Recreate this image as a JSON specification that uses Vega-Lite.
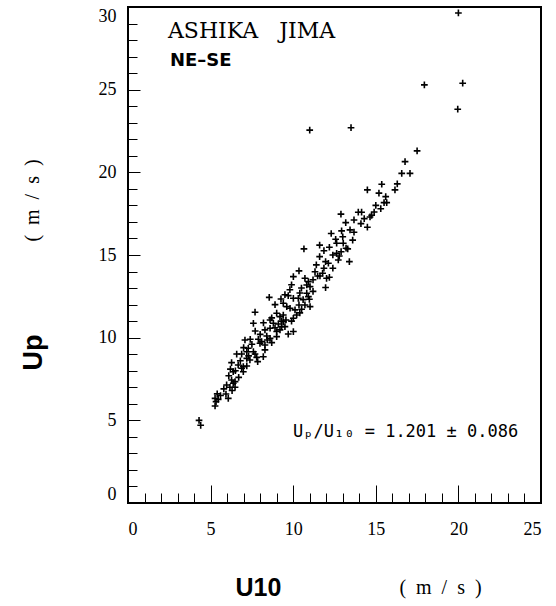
{
  "$schema": "https://vega.github.io/schema/vega-lite/v6.json",
  "width": 413,
  "height": 496,
  "autosize": {"type": "none"},
  "padding": {"left": 128, "top": 7, "right": 15, "bottom": 103},
  "background": "white",
  "config": {
    "view": {"stroke": "black", "strokeWidth": 2},
    "axis": {"grid": false, "domain": false, "tickColor": "black", "tickWidth": 1, "labelColor": "black", "titleColor": "black"}
  },
  "resolve": {"axis": {"x": "independent", "y": "independent"}},
  "layer": [
    {
      "data": {"values": [
        {"u10": 17.5, "up": 21.3}, {"u10": 16.77, "up": 20.65}, {"u10": 16.57, "up": 19.94}, {"u10": 17.07, "up": 19.94},
        {"u10": 15.36, "up": 19.28}, {"u10": 14.49, "up": 18.94}, {"u10": 15.19, "up": 18.74}, {"u10": 15.6, "up": 18.53},
        {"u10": 16.16, "up": 18.94}, {"u10": 15.5, "up": 18.17}, {"u10": 15.66, "up": 18.17}, {"u10": 12.89, "up": 17.47},
        {"u10": 13.94, "up": 17.59}, {"u10": 14.14, "up": 17.59}, {"u10": 14.75, "up": 17.4}, {"u10": 14.65, "up": 17.3},
        {"u10": 13.18, "up": 16.96}, {"u10": 13.68, "up": 17.12}, {"u10": 14.49, "up": 16.68}, {"u10": 12.93, "up": 16.46},
        {"u10": 13.44, "up": 16.52}, {"u10": 13.68, "up": 16.38}, {"u10": 10.65, "up": 15.37}, {"u10": 12.57, "up": 15.95},
        {"u10": 12.63, "up": 15.71}, {"u10": 13.03, "up": 15.71}, {"u10": 13.2, "up": 15.41}, {"u10": 13.3, "up": 15.37},
        {"u10": 11.86, "up": 15.26}, {"u10": 12.19, "up": 15.47}, {"u10": 12.63, "up": 15.1}, {"u10": 12.79, "up": 14.94},
        {"u10": 12.73, "up": 14.7}, {"u10": 11.96, "up": 14.6}, {"u10": 12.13, "up": 14.5}, {"u10": 11.86, "up": 14.2},
        {"u10": 11.78, "up": 13.9}, {"u10": 10.35, "up": 14.04}, {"u10": 10.01, "up": 13.69}, {"u10": 10.71, "up": 13.59},
        {"u10": 10.92, "up": 13.39}, {"u10": 10.82, "up": 13.19}, {"u10": 11.02, "up": 13.09}, {"u10": 11.32, "up": 13.99},
        {"u10": 11.48, "up": 13.73}, {"u10": 11.62, "up": 13.73}, {"u10": 12.02, "up": 13.59}, {"u10": 12.19, "up": 13.65},
        {"u10": 11.96, "up": 13.03}, {"u10": 10.92, "up": 12.48}, {"u10": 10.82, "up": 12.69}, {"u10": 10.98, "up": 12.32},
        {"u10": 8.55, "up": 12.44}, {"u10": 9.7, "up": 12.54}, {"u10": 10.01, "up": 12.38}, {"u10": 10.31, "up": 12.38},
        {"u10": 9.26, "up": 12.34}, {"u10": 9.4, "up": 12.08}, {"u10": 9.61, "up": 11.88}, {"u10": 9.81, "up": 11.78},
        {"u10": 10.35, "up": 11.98}, {"u10": 10.71, "up": 11.98}, {"u10": 11.02, "up": 11.88}, {"u10": 10.11, "up": 11.68},
        {"u10": 10.51, "up": 11.72}, {"u10": 7.69, "up": 11.54}, {"u10": 9.0, "up": 11.48}, {"u10": 9.2, "up": 11.27},
        {"u10": 9.4, "up": 11.37}, {"u10": 7.59, "up": 10.87}, {"u10": 8.6, "up": 11.07}, {"u10": 8.8, "up": 10.87},
        {"u10": 9.1, "up": 10.83}, {"u10": 9.4, "up": 10.97}, {"u10": 9.56, "up": 11.07}, {"u10": 10.01, "up": 11.17},
        {"u10": 10.21, "up": 11.37}, {"u10": 8.29, "up": 10.47}, {"u10": 8.6, "up": 10.57}, {"u10": 9.0, "up": 10.37},
        {"u10": 9.2, "up": 10.47}, {"u10": 9.3, "up": 10.67}, {"u10": 9.5, "up": 10.67}, {"u10": 9.7, "up": 10.22},
        {"u10": 10.01, "up": 10.37}, {"u10": 7.08, "up": 9.86}, {"u10": 7.89, "up": 9.9}, {"u10": 8.09, "up": 9.76},
        {"u10": 8.43, "up": 9.86}, {"u10": 8.6, "up": 9.96}, {"u10": 9.0, "up": 10.06}, {"u10": 7.99, "up": 9.66},
        {"u10": 8.29, "up": 9.56}, {"u10": 8.7, "up": 9.7}, {"u10": 7.28, "up": 9.36}, {"u10": 7.59, "up": 9.15},
        {"u10": 7.19, "up": 9.15}, {"u10": 8.29, "up": 9.26}, {"u10": 6.58, "up": 9.01}, {"u10": 6.88, "up": 9.01},
        {"u10": 7.19, "up": 8.75}, {"u10": 7.38, "up": 8.65}, {"u10": 7.69, "up": 9.01}, {"u10": 7.79, "up": 8.81},
        {"u10": 7.85, "up": 8.55}, {"u10": 8.19, "up": 8.85}, {"u10": 6.27, "up": 8.49}, {"u10": 6.67, "up": 8.35},
        {"u10": 6.88, "up": 8.15}, {"u10": 6.98, "up": 8.25}, {"u10": 7.19, "up": 8.29}, {"u10": 6.37, "up": 7.94},
        {"u10": 6.98, "up": 7.94}, {"u10": 6.27, "up": 7.44}, {"u10": 6.37, "up": 7.24}, {"u10": 6.48, "up": 7.34},
        {"u10": 5.97, "up": 7.14}, {"u10": 6.17, "up": 7.0}, {"u10": 6.48, "up": 7.0}, {"u10": 5.93, "up": 6.59},
        {"u10": 6.07, "up": 6.33}, {"u10": 5.27, "up": 6.33}, {"u10": 5.46, "up": 6.27}, {"u10": 5.33, "up": 6.13},
        {"u10": 5.27, "up": 5.87},
        {"u10": 8.7, "up": 11.2}, {"u10": 8.9, "up": 10.6}, {"u10": 9.3, "up": 11.0}, {"u10": 9.9, "up": 11.0},
        {"u10": 10.4, "up": 11.5}, {"u10": 10.6, "up": 12.3}, {"u10": 9.5, "up": 12.6}, {"u10": 8.9, "up": 12.0},
        {"u10": 10.5, "up": 13.0}, {"u10": 11.2, "up": 12.8}, {"u10": 11.4, "up": 14.4}, {"u10": 12.4, "up": 14.2},
        {"u10": 12.4, "up": 15.0}, {"u10": 11.2, "up": 13.5}, {"u10": 8.0, "up": 10.2}, {"u10": 8.4, "up": 10.1},
        {"u10": 7.5, "up": 9.6}, {"u10": 7.7, "up": 10.4}, {"u10": 6.8, "up": 8.6}, {"u10": 6.5, "up": 8.0},
        {"u10": 6.7, "up": 7.6}, {"u10": 6.1, "up": 7.7}, {"u10": 5.8, "up": 6.9}, {"u10": 5.6, "up": 6.5},
        {"u10": 6.3, "up": 6.8}, {"u10": 7.0, "up": 9.4}, {"u10": 7.4, "up": 9.9}, {"u10": 9.8, "up": 12.9},
        {"u10": 10.4, "up": 12.7}, {"u10": 11.6, "up": 14.9}, {"u10": 12.3, "up": 16.3}, {"u10": 13.0, "up": 16.1},
        {"u10": 13.6, "up": 15.9}, {"u10": 14.1, "up": 16.9}, {"u10": 14.3, "up": 17.2}, {"u10": 15.0, "up": 18.0},
        {"u10": 14.9, "up": 17.6}, {"u10": 16.3, "up": 19.3}, {"u10": 15.3, "up": 17.8}, {"u10": 13.4, "up": 14.6},
        {"u10": 12.9, "up": 15.2}, {"u10": 11.6, "up": 15.6}, {"u10": 9.9, "up": 13.2}, {"u10": 8.2, "up": 10.9},
        {"u10": 7.3, "up": 8.9}, {"u10": 6.2, "up": 8.1}, {"u10": 5.4, "up": 6.6},
        {"u10": 17.94, "up": 25.29}, {"u10": 20.26, "up": 25.39}, {"u10": 19.96, "up": 23.82}, {"u10": 20.0, "up": 29.64},
        {"u10": 11.0, "up": 22.55}, {"u10": 13.5, "up": 22.7}, {"u10": 4.3, "up": 5.0}, {"u10": 4.4, "up": 4.7}
      ]},
      "mark": {"type": "point", "shape": "M-1,0H1M0,-1V1", "size": 45, "stroke": "black", "strokeWidth": 1.6, "filled": false, "opacity": 1},
      "encoding": {
        "x": {
          "field": "u10", "type": "quantitative",
          "scale": {"domain": [0, 25], "nice": false, "zero": false},
          "axis": {
            "orient": "bottom", "values": [0,1,2,3,4,5,6,7,8,9,10,11,12,13,14,15,16,17,18,19,20,21,22,23,24,25],
            "tickSize": -10, "labels": false,
            "title": "(\u2002m\u2002/\u2002s\u2002)", "titleFont": "Liberation Serif", "titleFontSize": 20, "titleFontWeight": "normal",
            "titleX": 312, "titleY": 84, "titleAlign": "center", "titleBaseline": "middle"
          }
        },
        "y": {
          "field": "up", "type": "quantitative",
          "scale": {"domain": [0, 30], "nice": false, "zero": false},
          "axis": {
            "orient": "left", "values": [0,1,2,3,4,5,6,7,8,9,10,11,12,13,14,15,16,17,18,19,20,21,22,23,24,25,26,27,28,29,30],
            "tickSize": -9, "labels": false,
            "title": "(\u2002m\u2002/\u2002s\u2002)", "titleFont": "Liberation Serif", "titleFontSize": 20, "titleFontWeight": "normal",
            "titleX": -96, "titleY": 193, "titleAngle": -90, "titleAlign": "center", "titleBaseline": "middle"
          }
        }
      }
    },
    {
      "data": {"values": [{"u10": 2.42, "up": 28.55, "label": "ASHIKA\u00a0\u00a0\u00a0JIMA"}]},
      "mark": {"type": "text", "align": "left", "baseline": "middle", "font": "DejaVu Serif", "fontSize": 22, "color": "black"},
      "encoding": {
        "x": {
          "field": "u10", "type": "quantitative",
          "axis": {
            "orient": "bottom", "values": [0, 5, 10, 15, 20, 25],
            "tickSize": -18, "labelPadding": 35, "labelFlush": true, "labelFont": "Liberation Serif", "labelFontSize": 18,
            "title": "U10", "titleFont": "Liberation Sans", "titleFontSize": 25, "titleFontWeight": "bold",
            "titleX": 130, "titleY": 84, "titleAlign": "center", "titleBaseline": "middle"
          }
        },
        "y": {
          "field": "up", "type": "quantitative",
          "axis": {
            "orient": "left", "values": [0, 5, 10, 15, 20, 25, 30],
            "tickSize": -12, "labelPadding": 24, "labelFlush": true, "labelFont": "Liberation Serif", "labelFontSize": 18,
            "title": "Up", "titleFont": "Liberation Sans", "titleFontSize": 27, "titleFontWeight": "bold",
            "titleX": -95, "titleY": 345, "titleAngle": -90, "titleAlign": "center", "titleBaseline": "middle"
          }
        },
        "text": {"field": "label"}
      }
    },
    {
      "data": {"values": [{"u10": 2.54, "up": 26.74, "label": "NE–SE"}]},
      "mark": {"type": "text", "align": "left", "baseline": "middle", "font": "DejaVu Sans", "fontSize": 18, "fontWeight": "bold", "color": "black"},
      "encoding": {
        "x": {"field": "u10", "type": "quantitative", "axis": null},
        "y": {"field": "up", "type": "quantitative", "axis": null},
        "text": {"field": "label"}
      }
    },
    {
      "data": {"values": [{"u10": 9.99, "up": 4.3, "label": "Uₚ/U₁₀ = 1.201 ± 0.086"}]},
      "mark": {"type": "text", "align": "left", "baseline": "middle", "font": "DejaVu Sans Mono", "fontSize": 17, "color": "black"},
      "encoding": {
        "x": {"field": "u10", "type": "quantitative", "axis": null},
        "y": {"field": "up", "type": "quantitative", "axis": null},
        "text": {"field": "label"}
      }
    }
  ]
}
